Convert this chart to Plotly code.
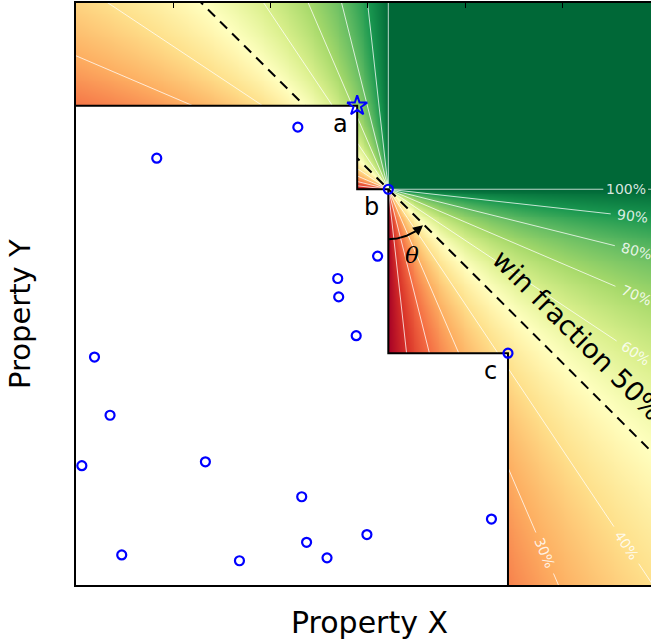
import numpy as np
import plotly.graph_objects as go

# ---------------- data ----------------
pareto_labels = ["a", "b", "c"]
pareto_x = [2.89, 3.21, 4.44]
pareto_y = [4.94, 4.08, 2.39]

other_x = [2.28, 0.83, 3.10, 2.69, 2.70, 2.88, 0.19, 0.35, 0.06, 1.33,
           2.32, 4.27, 0.47, 1.68, 2.37, 2.58, 2.99]
other_y = [4.72, 4.40, 3.39, 3.16, 2.97, 2.57, 2.35, 1.75, 1.23, 1.27,
           0.91, 0.68, 0.31, 0.25, 0.44, 0.28, 0.52]

contour_levels = [0.1, 0.2, 0.3, 0.4, 0.5, 0.6, 0.7, 0.8, 0.9, 1.0]
label_levels = [1.0, 0.9, 0.8, 0.7, 0.6, 0.4, 0.3]
label_texts = ["100%", "90%", "80%", "70%", "60%", "40%", "30%"]
label_dist = [2.44, 2.53, 2.63, 2.77, 3.05, 4.41, 4.08]   # along ray, data units

XMAX, YMAX = 5.91, 6.0
W, H = 651, 643
ML, MR, MT, MB = 76, 0, 3, 58
sx = (W - ML - MR) / XMAX
sy = (H - MT - MB) / YMAX

bx, by = pareto_x[1], pareto_y[1]   # reference point b

rdylgn = ["#a50026", "#d73027", "#f46d43", "#fdae61", "#fee08b", "#ffffbf",
          "#d9ef8b", "#a6d96a", "#66bd63", "#1a9850", "#006837"]
cscale = [[i / 10, c] for i, c in enumerate(rdylgn)]

fig = go.Figure()

# ---------------- win-fraction field ----------------
gx = np.linspace(0, XMAX, 300)
gy = np.linspace(0, YMAX, 305)
GX, GY = np.meshgrid(gx, gy)
dX = GX - bx
dY = GY - by
F = 0.5 + 0.5 * (dX + dY) / (np.abs(dX) + np.abs(dY) + 1e-9)
fig.add_trace(go.Heatmap(x=gx, y=gy, z=F, colorscale=cscale, zmin=0, zmax=1,
                         showscale=False, zsmooth="best", hoverinfo="skip"))

# ---------------- contour rays ----------------
line_style = dict(color="rgba(255,255,255,0.75)", width=1)
gap = 0.23
far = 12.0
lab_map = {lv: (t, d) for lv, t, d in zip(label_levels, label_texts, label_dist)}
for lv in contour_levels:
    if lv == 0.5:
        continue
    dirs = []
    if lv < 1.0:
        dirs.append(((lv, -(1 - lv)), True))       # down-right
        dirs.append((((-(1 - lv)), lv), False))    # up-left
    else:
        dirs.append(((1.0, 0.0), True))            # right
        dirs.append(((0.0, 1.0), False))           # up
    for (ux, uy), labelled in dirs:
        n = np.hypot(ux, uy)
        ux, uy = ux / n, uy / n
        segs = [(0, far)]
        if labelled and lv in lab_map:
            d = lab_map[lv][1]
            segs = [(0, d - gap), (d + gap, far)]
        for s0, s1 in segs:
            fig.add_trace(go.Scatter(x=[bx + ux * s0, bx + ux * s1],
                                     y=[by + uy * s0, by + uy * s1],
                                     mode="lines", line=line_style,
                                     hoverinfo="skip", showlegend=False))

# contour labels
for lv, txt, d in zip(label_levels, label_texts, label_dist):
    if lv < 1.0:
        ux, uy = lv, -(1 - lv)
    else:
        ux, uy = 1.0, 0.0
    n = np.hypot(ux, uy)
    ux, uy = ux / n, uy / n
    ang = np.degrees(np.arctan2(-uy * sy, ux * sx))
    fig.add_annotation(x=bx + ux * d, y=by + uy * d, text=txt, showarrow=False,
                       textangle=ang, xanchor="center", yanchor="middle",
                       font=dict(family="DejaVu Sans", size=14,
                                 color="rgba(255,255,255,0.85)"))

# 50% dashed line
fig.add_trace(go.Scatter(x=[bx - far, bx + far], y=[by + far, by - far],
                         mode="lines",
                         line=dict(color="black", width=2, dash="10px,7px"),
                         hoverinfo="skip", showlegend=False))

# ---------------- dominated region ----------------
order = np.argsort(pareto_x)
px = [pareto_x[i] for i in order]
py = [pareto_y[i] for i in order]
stair_x = [0.0]
stair_y = [py[0]]
for i in range(len(px)):
    stair_x.append(px[i]); stair_y.append(py[i])
    nxt = py[i + 1] if i + 1 < len(px) else 0.0
    stair_x.append(px[i]); stair_y.append(nxt)
fig.add_trace(go.Scatter(x=[0.0] + stair_x + [0.0], y=[0.0] + stair_y + [0.0],
                         mode="lines", fill="toself", fillcolor="white",
                         line=dict(width=0, color="white"),
                         hoverinfo="skip", showlegend=False))
fig.add_trace(go.Scatter(x=stair_x, y=stair_y, mode="lines",
                         line=dict(color="black", width=2),
                         hoverinfo="skip", showlegend=False))

# ---------------- theta arc ----------------
r_arc = 50 / sx
th = np.radians(np.linspace(0, 38, 40))
fig.add_trace(go.Scatter(x=bx + r_arc * np.sin(th), y=by - r_arc * np.cos(th) * sx / sy,
                         mode="lines", line=dict(color="black", width=2),
                         hoverinfo="skip", showlegend=False))
t0, t1 = np.radians(36), np.radians(44)
fig.add_annotation(x=bx + r_arc * np.sin(t1), y=by - r_arc * np.cos(t1) * sx / sy,
                   ax=bx + r_arc * np.sin(t0), ay=by - r_arc * np.cos(t0) * sx / sy,
                   axref="x", ayref="y", xref="x", yref="y", text="",
                   showarrow=True, arrowhead=2, arrowsize=1, arrowwidth=2,
                   arrowcolor="black")
fig.add_annotation(x=bx, y=by, xshift=24, yshift=-66, text="<i>θ</i>", showarrow=False,
                   font=dict(family="DejaVu Serif", size=23, color="black"))

# ---------------- points ----------------
fig.add_trace(go.Scatter(x=other_x + pareto_x[1:], y=other_y + pareto_y[1:],
                         mode="markers",
                         marker=dict(symbol="circle-open", size=9,
                                     line=dict(color="blue", width=2.2), color="blue"),
                         hoverinfo="skip", showlegend=False))
fig.add_trace(go.Scatter(x=[pareto_x[0]], y=[pareto_y[0]], mode="markers",
                         marker=dict(symbol="star-open", size=15,
                                     line=dict(color="blue", width=2), color="blue"),
                         hoverinfo="skip", showlegend=False))
for lab, x, y in zip(pareto_labels, pareto_x, pareto_y):
    fig.add_annotation(x=x, y=y, text=lab, showarrow=False, xshift=-17, yshift=-18,
                       font=dict(family="DejaVu Sans", size=24, color="black"))

# win fraction text
fig.add_annotation(x=bx, y=by, xshift=190, yshift=-146, text="win fraction 50%",
                   showarrow=False, textangle=45,
                   font=dict(family="DejaVu Sans", size=27, color="black"))

# axis titles
fig.add_annotation(xref="paper", yref="paper", x=(369 - ML) / (W - ML - MR),
                   y=(H - MB - 622) / (H - MT - MB), text="Property X",
                   showarrow=False, xanchor="center", yanchor="middle",
                   font=dict(family="DejaVu Sans", size=30, color="black"))
fig.add_annotation(xref="paper", yref="paper", x=(20 - ML) / (W - ML - MR),
                   y=(H - MB - 314) / (H - MT - MB), text="Property Y",
                   showarrow=False, xanchor="center", yanchor="middle", textangle=-90,
                   font=dict(family="DejaVu Sans", size=29, color="black"))

# invisible trace for top axis
fig.add_trace(go.Scatter(x=[0], y=[0], xaxis="x2", mode="markers",
                         marker=dict(opacity=0), hoverinfo="skip", showlegend=False))

ax_common = dict(showgrid=False, zeroline=False, showticklabels=False)
fig.update_layout(
    width=W, height=H, margin=dict(l=ML, r=MR, t=MT, b=MB),
    paper_bgcolor="white", plot_bgcolor="white", showlegend=False,
    xaxis=dict(range=[0, XMAX], showline=True, linecolor="black", linewidth=1.5,
               ticks="", **ax_common),
    yaxis=dict(range=[0, YMAX], showline=True, linecolor="black", linewidth=1.5,
               ticks="", **ax_common),
    xaxis2=dict(range=[0, XMAX], overlaying="x", side="top", showline=True,
                linecolor="black", linewidth=1.5, ticks="inside",
                tickvals=[1, 2, 3, 4, 5], ticklen=5, tickwidth=1, tickcolor="black",
                **ax_common),
)

fig.write_html("out.html")
